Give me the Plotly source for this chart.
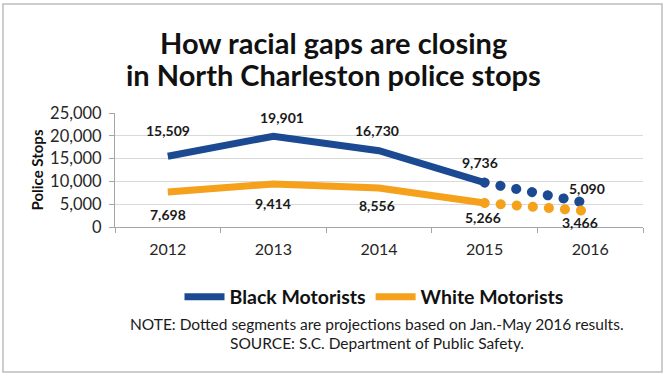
import plotly.graph_objects as go

years = ["2012", "2013", "2014", "2015", "2016"]
black = [15509, 19901, 16730, 9736, 5090]
white = [7698, 9414, 8556, 5266, 3466]
y_ticks = [0, 5000, 10000, 15000, 20000, 25000]
title_lines = ["How racial gaps are closing", "in North Charleston police stops"]

BLUE = "#1B4A92"
ORANGE = "#F5A11C"
FONT = "Lato"
W, H = 666, 378
L, R, T, B = 115, 23, 113, 151
PW, PH = W - L - R, H - T - B

def px(xp):
    return (xp - L) / PW

def py(yp):
    return (H - B - yp) / PH

idx = list(range(len(years)))

fig = go.Figure()
# solid actual segments
fig.add_trace(go.Scatter(x=idx[:4], y=black[:4], mode="lines", name="Black Motorists",
                         line=dict(color=BLUE, width=7)))
fig.add_trace(go.Scatter(x=idx[:4], y=white[:4], mode="lines", name="White Motorists",
                         line=dict(color=ORANGE, width=7)))
# projected dotted segments (round dots via linecap set after render)
fig.add_trace(go.Scatter(x=idx[3:], y=black[3:], mode="lines", showlegend=False,
                         line=dict(color=BLUE, width=10, dash="0.1px,16px")))
fig.add_trace(go.Scatter(x=idx[3:], y=white[3:], mode="lines", showlegend=False,
                         line=dict(color=ORANGE, width=10, dash="0.1px,16px")))

# data labels
black_off = [(0, 26), (9, 19), (-2, 20), (-5, 20), (-3, 15)]
white_off = [(0, -23), (0, -19), (-2, -18), (-2, -15), (-10, -11)]
for vals, offs in ((black, black_off), (white, white_off)):
    for i, v, (dx, dy) in zip(idx, vals, offs):
        fig.add_annotation(x=i, y=v, text=f"{v:,}", showarrow=False,
                           xshift=dx, yshift=dy,
                           font=dict(family=FONT, size=14, color="#1a1a1a", weight="bold"))

# title lines
for t, yp in zip(title_lines, (42, 74)):
    fig.add_annotation(xref="paper", yref="paper", x=px(333), y=py(yp), text=t,
                       showarrow=False, xanchor="center", yanchor="middle",
                       font=dict(family=FONT, size=29, color="#111111", weight="bold"))

# notes
fig.add_annotation(xref="paper", yref="paper", x=px(377), y=py(335),
                   text="NOTE: Dotted segments are projections based on Jan.-May 2016 results.",
                   showarrow=False, font=dict(family=FONT, size=15.5, color="#1a1a1a"))
fig.add_annotation(xref="paper", yref="paper", x=px(377), y=py(354),
                   text="SOURCE: S.C. Department of Public Safety.",
                   showarrow=False, font=dict(family=FONT, size=15.5, color="#1a1a1a"))

# border
fig.add_shape(type="rect", xref="paper", yref="paper",
              x0=px(3), x1=px(662), y0=py(372), y1=py(4),
              line=dict(color="#BDBDBD", width=1.5), layer="below")

fig.update_layout(
    width=W, height=H,
    margin=dict(l=L, r=R, t=T, b=B, autoexpand=False),
    paper_bgcolor="white", plot_bgcolor="white",
    font=dict(family=FONT, color="#1a1a1a"),
    legend=dict(orientation="h", x=px(374), xanchor="center", y=py(297), yanchor="middle",
                font=dict(family=FONT, size=19.5, color="#111111", weight="bold"),
                itemwidth=40, bgcolor="rgba(0,0,0,0)"),
    xaxis=dict(range=[-0.5, 4.5], tickvals=idx, ticktext=years, ticks="",
               showline=True, linecolor="#A6A6A6", linewidth=1,
               showgrid=False, zeroline=False,
               minor=dict(tickvals=[i - 0.5 for i in idx] + [4.5], ticks="outside",
                          ticklen=5, tickcolor="#A6A6A6", showgrid=False),
               tickfont=dict(family=FONT, size=16, color="#262626"),
               ticklabelstandoff=8),
    yaxis=dict(range=[0, 25000], tickvals=y_ticks, tickformat=",d", ticks="outside",
               ticklen=5, tickcolor="#A6A6A6", showline=True, linecolor="#A6A6A6",
               showgrid=True, gridcolor="#D9D9D9", gridwidth=1, zeroline=False,
               tickfont=dict(family=FONT, size=16.5, color="#262626"),
               ticklabelstandoff=4,
               title=dict(text="Police Stops", standoff=2,
                          font=dict(family=FONT, size=15, color="#111111", weight="bold"))),
)

post = """
document.body.style.margin = '0';
document.body.style.padding = '0';
var gd = document.getElementById('{plot_id}');
function roundCaps() {
  var paths = gd.querySelectorAll('.scatterlayer path.js-line');
  paths.forEach(function(p) {
    var d = p.style.strokeDasharray;
    if (d && d !== 'none' && d.indexOf('0.1') === 0) { p.style.strokeLinecap = 'round'; }
  });
}
roundCaps();
gd.on('plotly_afterplot', roundCaps);
"""

fig.write_html("out.html", post_script=post, config={"displayModeBar": False})
